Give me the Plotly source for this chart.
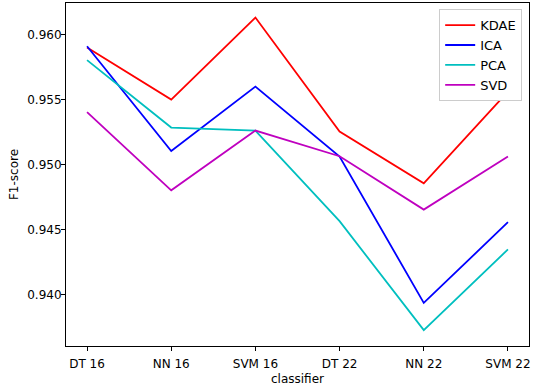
import plotly.graph_objects as go

categories = ["DT 16", "NN 16", "SVM 16", "DT 22", "NN 22", "SVM 22"]
kdae = [0.9590, 0.9550, 0.9613, 0.95255, 0.94857, 0.95561]
ica = [0.9591, 0.95105, 0.9560, 0.95063, 0.93938, 0.94558]
pca = [0.95803, 0.95285, 0.95262, 0.94566, 0.93729, 0.94349]
svd = [0.95403, 0.94803, 0.95262, 0.95065, 0.94655, 0.95063]
y_ticks = [0.940, 0.945, 0.950, 0.955, 0.960]
y_tick_labels = ["0.940", "0.945", "0.950", "0.955", "0.960"]

series = [("KDAE", kdae, "#ff0000"), ("ICA", ica, "#0000ff"),
          ("PCA", pca, "#00bfbf"), ("SVD", svd, "#bf00bf")]

fig = go.Figure()
xs = list(range(len(categories)))
for name, vals, col in series:
    fig.add_trace(go.Scatter(x=xs, y=vals, mode="lines", name=name,
                             line=dict(color=col, width=1.8)))

font = dict(family="DejaVu Sans", size=12, color="black")
fig.update_layout(
    width=533, height=386,
    margin=dict(l=66, r=3, t=2, b=39),
    plot_bgcolor="white", paper_bgcolor="white",
    font=font,
    showlegend=True,
    legend=dict(x=0.806, y=0.982, xanchor="left", yanchor="top",
                bgcolor="white", bordercolor="#cccccc", borderwidth=1,
                font=dict(family="DejaVu Sans", size=13, color="black"),
                itemwidth=30, tracegroupgap=0),
)
fig.update_xaxes(
    range=[-0.25, 5.25], tickmode="array", tickvals=xs, ticktext=categories,
    showgrid=False, zeroline=False, showline=True, linecolor="black", linewidth=1,
    mirror=True, ticks="outside", ticklen=4, tickcolor="black", ticklabelstandoff=3,
    title=dict(text="classifier", font=font, standoff=4),
)
fig.update_yaxes(
    range=[0.93607, 0.96242], tickmode="array", tickvals=y_ticks, ticktext=y_tick_labels,
    showgrid=False, zeroline=False, showline=True, linecolor="black", linewidth=1,
    mirror=True, ticks="outside", ticklen=4, tickcolor="black", ticklabelstandoff=-3,
    title=dict(text="F1-score", font=font, standoff=6),
)
fig.write_html("out.html", config={"displayModeBar": False},
               post_script="document.body.style.margin='0px';document.body.style.overflow='hidden';")
